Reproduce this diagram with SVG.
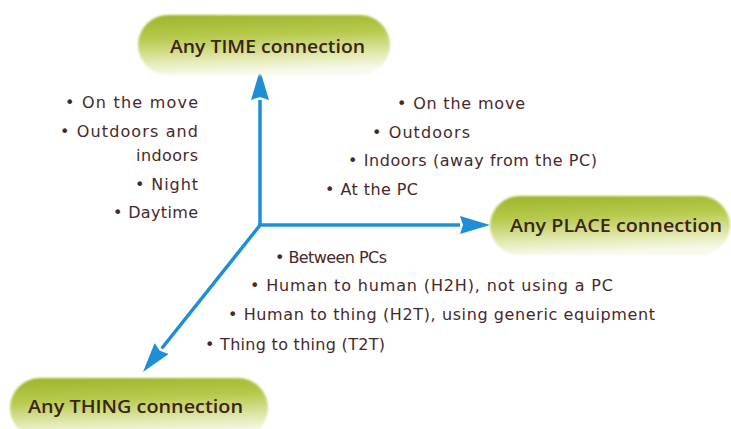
<svg xmlns="http://www.w3.org/2000/svg" width="731" height="429" viewBox="0 0 731 429">
  <defs>
    <linearGradient id="pillGrad" x1="0" y1="0" x2="0.15" y2="1">
      <stop offset="0" stop-color="#9db42a"/>
      <stop offset="0.4" stop-color="#b8ca4e"/>
      <stop offset="0.78" stop-color="#e4eab4"/>
      <stop offset="1" stop-color="#f8f9ec"/>
    </linearGradient>
    <filter id="soft" x="-5%" y="-10%" width="110%" height="120%">
      <feGaussianBlur stdDeviation="0.9"/>
    </filter>
    <marker id="arrow" markerUnits="userSpaceOnUse" markerWidth="32" markerHeight="20" refX="0" refY="9" orient="auto">
      <path d="M0,0 L30,9 L0,18 L3,9 z" fill="#1e8fd6"/>
    </marker>
    <style>
      .pill { fill: url(#pillGrad); filter: url(#soft); }
      .ptxt { font-family: "Open Sans", "DejaVu Sans", sans-serif; font-weight: 600; font-size: 18px; fill: #3a2414; }
      .item { font-family: "DejaVu Sans", "Liberation Sans", sans-serif; font-size: 16px; fill: #47282a; }
      .axis { stroke: #1e8fd6; stroke-width: 3.5; fill: none; marker-end: url(#arrow); }
    </style>
  </defs>
  <rect width="731" height="429" fill="#ffffff"/>

  <g id="connectors">
    <line class="axis" x1="260" y1="226" x2="260" y2="100"/>
    <line class="axis" x1="258" y1="225" x2="460" y2="225"/>
    <line class="axis" x1="261" y1="224" x2="161.7" y2="348.5"/>
  </g>

  <g id="node-time">
    <rect class="pill" x="138" y="15" width="252" height="60" rx="30"/>
    <text class="ptxt" x="170" y="53" textLength="195" lengthAdjust="spacingAndGlyphs">Any TIME connection</text>
  </g>
  <g id="node-place">
    <rect class="pill" x="490" y="196" width="240" height="59" rx="29.5"/>
    <text class="ptxt" x="510" y="232" textLength="212" lengthAdjust="spacingAndGlyphs">Any PLACE connection</text>
  </g>
  <g id="node-thing">
    <rect class="pill" x="10" y="378" width="258" height="60" rx="30"/>
    <text class="ptxt" x="28" y="413" textLength="215" lengthAdjust="spacingAndGlyphs">Any THING connection</text>
  </g>

  <g id="time-items">
    <text class="item" x="65" y="108" textLength="133">• On the move</text>
    <text class="item" x="60" y="137" textLength="138">• Outdoors and</text>
    <text class="item" x="136" y="161" textLength="62">indoors</text>
    <text class="item" x="135" y="190" textLength="63">• Night</text>
    <text class="item" x="113" y="218" textLength="85">• Daytime</text>
  </g>
  <g id="place-items">
    <text class="item" x="397" y="109" textLength="128">• On the move</text>
    <text class="item" x="372" y="138" textLength="98">• Outdoors</text>
    <text class="item" x="348" y="166" textLength="249">• Indoors (away from the PC)</text>
    <text class="item" x="325" y="195" textLength="93">• At the PC</text>
  </g>
  <g id="thing-items">
    <text class="item" x="275" y="263" textLength="112">• Between PCs</text>
    <text class="item" x="250" y="291" textLength="363">• Human to human (H2H), not using a PC</text>
    <text class="item" x="228" y="320" textLength="427">• Human to thing (H2T), using generic equipment</text>
    <text class="item" x="205" y="350" textLength="180">• Thing to thing (T2T)</text>
  </g>
</svg>
